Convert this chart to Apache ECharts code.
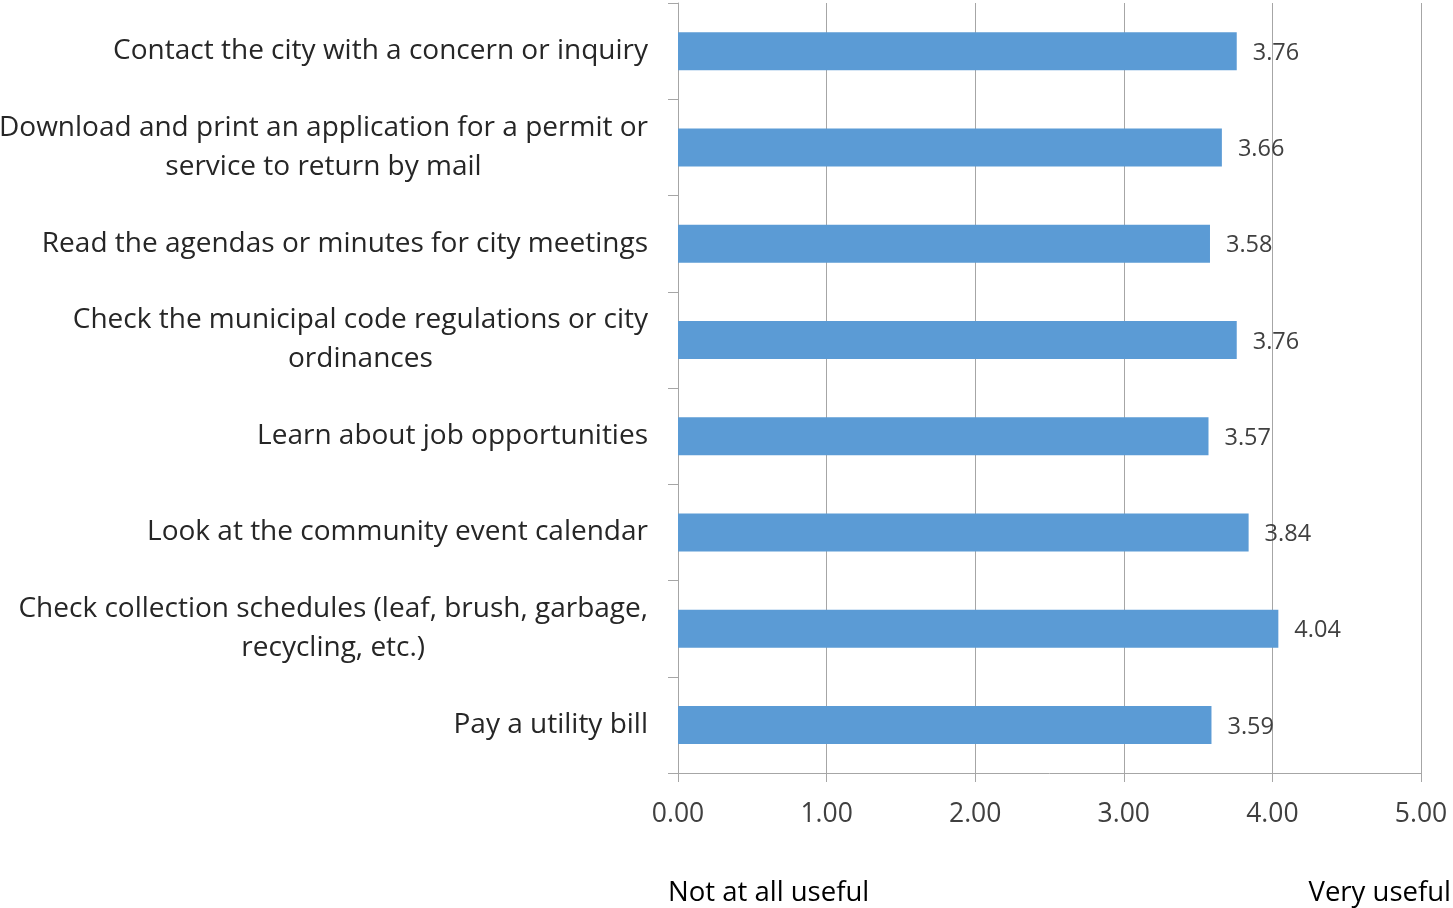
<!DOCTYPE html>
<html>
<head>
<meta charset="utf-8">
<script src="https://cdn.jsdelivr.net/npm/echarts@6/dist/echarts.min.js"></script>
<style>
  html, body { margin: 0; padding: 0; background: #ffffff; }
  #chart { width: 1453px; height: 908px; }
</style>
</head>
<body>
<div id="chart"></div>
<script>
// categories, top to bottom
const categories = [
  'Contact the city with a concern or inquiry',
  'Download and print an application for a permit or\nservice to return by mail',
  'Read the agendas or minutes for city meetings',
  'Check the municipal code regulations or city\nordinances',
  'Learn about job opportunities',
  'Look at the community event calendar',
  'Check collection schedules (leaf, brush, garbage,\nrecycling, etc.)',
  'Pay a utility bill'
];
const scores = [3.76, 3.66, 3.58, 3.76, 3.57, 3.84, 4.04, 3.59];
const lowLabel = 'Not at all useful';
const highLabel = 'Very useful';

const FONT = '"Open Sans", sans-serif';
const chart = echarts.init(document.getElementById('chart'));

const option = {
  backgroundColor: '#ffffff',
  animation: false,
  grid: {
    left: 678,
    right: 32,
    top: 3,
    bottom: 135,
    containLabel: false,
    outerBoundsMode: 'none'
  },
  xAxis: {
    type: 'value',
    min: 0,
    max: 5,
    interval: 1,
    axisLine: { show: true, lineStyle: { color: '#a6a6a6', width: 1 } },
    axisTick: { show: true, length: 9, lineStyle: { color: '#a6a6a6' } },
    axisLabel: {
      color: '#404040',
      fontFamily: FONT,
      fontSize: 26.5,
      margin: 28,
      formatter: v => v.toFixed(2)
    },
    splitLine: { show: true, lineStyle: { color: '#a6a6a6', width: 1 } }
  },
  yAxis: {
    type: 'category',
    inverse: true,
    data: categories,
    axisLine: { show: true, lineStyle: { color: '#a6a6a6', width: 1 } },
    axisTick: { show: true, length: 10, lineStyle: { color: '#a6a6a6' } },
    axisLabel: {
      margin: 30,
      color: '#262626',
      fontFamily: FONT,
      fontSize: 28,
      lineHeight: 39,
      formatter: v => v.split('\n').map(s => '{c|' + s + '}').join('\n'),
      rich: {
        c: { align: 'center', fontFamily: FONT, fontSize: 28, lineHeight: 39, color: '#262626' }
      }
    }
  },
  series: [{
    type: 'bar',
    data: scores,
    barWidth: 38,
    itemStyle: { color: '#5b9bd5' },
    label: {
      show: true,
      position: 'right',
      distance: 16,
      offset: [0, 2],
      color: '#404040',
      fontFamily: FONT,
      fontSize: 23.5,
      formatter: p => p.value.toFixed(2)
    }
  }],
  graphic: [
    {
      type: 'text',
      left: 668,
      top: 879,
      style: { text: lowLabel, fill: '#000000', font: '27.5px ' + FONT }
    },
    {
      type: 'text',
      right: 2,
      top: 879,
      style: { text: highLabel, fill: '#000000', font: '27.5px ' + FONT }
    }
  ]
};

chart.setOption(option);
</script>
</body>
</html>
